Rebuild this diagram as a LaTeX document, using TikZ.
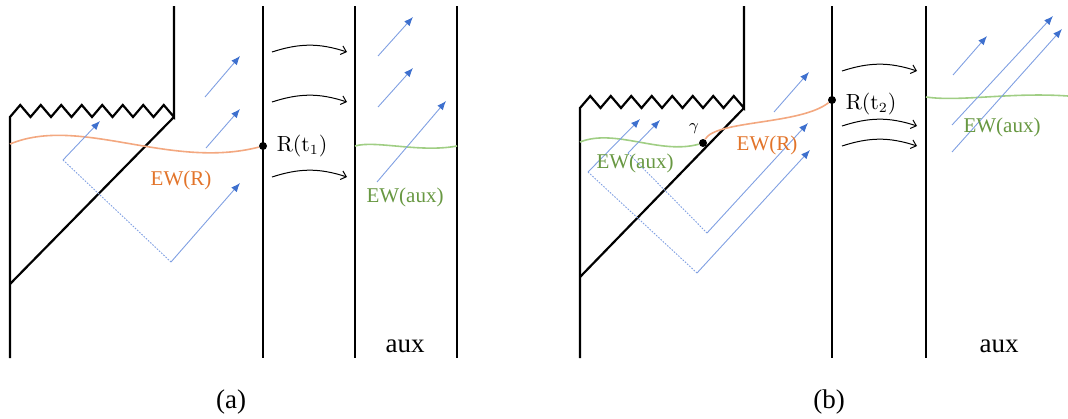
\documentclass[tikz,border=0pt]{standalone}
\usepackage[no-math]{fontspec}
\setmainfont{Liberation Serif}
\usetikzlibrary{arrows.meta,positioning}
\definecolor{ewR}{RGB}{226,116,42}
\definecolor{ewRline}{RGB}{243,168,128}
\definecolor{ewA}{RGB}{104,152,66}
\definecolor{ewAline}{RGB}{160,206,132}
\definecolor{raycol}{RGB}{128,160,226}
\definecolor{tipcol}{RGB}{62,112,206}
\tikzset{
  bnd/.style={line width=1.1pt, line join=miter},
  ray/.style={raycol, line width=0.45pt,
              -{Latex[length=4.5pt,width=3.6pt,color=tipcol]}},
  rayback/.style={raycol, line width=0.45pt, dash pattern=on 0.8pt off 0.7pt},
  flow/.style={line width=0.5pt, -{Straight Barb[length=2.5pt,width=4.5pt]}},
  ewline/.style={line width=0.8pt},
  dot/.style={circle, fill, inner sep=0pt, minimum size=4pt},
  lbl/.style={font=\fontsize{10.5}{12}\selectfont, inner sep=0pt},
  big/.style={font=\fontsize{13.5}{15}\selectfont, inner sep=0pt},
}
\begin{document}
\begin{tikzpicture}[x=0.5pt, y=-0.5pt]
    \useasboundingbox (0,0) rectangle (1068,418);
    \draw[bnd] (10,358) -- (10,117)
      \foreach \i in {1,...,8} { -- ++(10.25,-12) -- ++(10.25,12) } -- (174,6);
    \draw[bnd] (174,117) -- (10,284);
    \foreach \x in {263,355,457} \draw[bnd] (\x,6) -- (\x,358);
    \node[dot] (Rt1) at (263,146) {};
    \node[lbl, right=4.5pt of Rt1] {$\mathrm{R}(\mathrm{t}_1)$};
    \draw[ewline, ewRline] (10,144) .. controls (80,115) and (170,170) .. (Rt1);
    \draw[ewline, ewAline] (355,146) .. controls (375,140) and (420,153) .. (457,146);
    \coordinate (ka) at (63,160);
    \coordinate (kb) at (171,262);
    \draw[ray] (ka) -- (100,121);
    \draw[rayback] (ka) -- (kb);
    \draw[ray] (kb) -- (240,183);
    \draw[ray] (205,97) -- (240,56);
    \draw[ray] (206,148) -- (240,109);
    \draw[ray] (378,56) -- (413,17);
    \draw[ray] (378,107) -- (413,68);
    \draw[ray] (377,182) -- (446,101);
    \foreach \y in {52,102,177} \draw[flow] (272,\y) to[bend left=18] (347,\y);
    \node[lbl, text=ewR] (ewRa) at (181,180) {EW(R)};
    \node[lbl, text=ewA] (ewAa) at (405,197) {EW(aux)};
    \node[big] (auxa) at (405,346) {aux};
    \node[big] (capa) at (231,402) {(a)};
    \draw[bnd] (580,358) -- (580,108)
      \foreach \i in {1,...,8} { -- ++(10.25,-12) -- ++(10.25,12) } -- (744,6);
    \draw[bnd] (744,108) -- (580,277);
    \foreach \x in {832,926} \draw[bnd] (\x,6) -- (\x,358);
    \node[dot] (Rt2) at (832,100) {};
    \node[dot] (gam) at (703,143) {};
    \node[lbl, right=4.5pt of Rt2, yshift=-2pt] {$\mathrm{R}(\mathrm{t}_2)$};
    \node[lbl, font=\fontsize{8}{9}\selectfont] at (694,129) {$\gamma$};
    \draw[ewline, ewAline] (580,142) .. controls (615,128) and (660,155) .. (gam);
    \draw[ewline, ewRline] (gam) .. controls (716,120) and (800,125) .. (Rt2);
    \draw[ewline, ewAline] (926,97) .. controls (960,102) and (1010,92) .. (1068,96);
    \coordinate (kc) at (588,172);
    \coordinate (kd) at (697,273);
    \coordinate (ke) at (628,153);
    \coordinate (kf) at (707,233);
    \draw[ray] (kc) -- (640,119);
    \draw[rayback] (kc) -- (kd);
    \draw[ray] (kd) -- (810,150);
    \draw[ray] (ke) -- (660,120);
    \draw[rayback] (ke) -- (kf);
    \draw[ray] (kf) -- (808,123);
    \draw[ray] (774,112) -- (809,72);
    \draw[ray] (953,75) -- (987,36);
    \draw[ray] (952,125) -- (1053,16);
    \draw[ray] (952,152) -- (1062,29);
    \foreach \y in {71,126,146} \draw[flow] (842,\y) to[bend left=18] (917,\y);
    \node[lbl, text=ewA] (ewAb) at (635,163) {EW(aux)};
    \node[lbl, text=ewR] (ewRb) at (767,145) {EW(R)};
    \node[lbl, text=ewA] (ewAc) at (1002,127) {EW(aux)};
    \node[big] (auxb) at (999,346) {aux};
    \node[big] (capb) at (829,402) {(b)};
  \end{tikzpicture}
\end{document}
